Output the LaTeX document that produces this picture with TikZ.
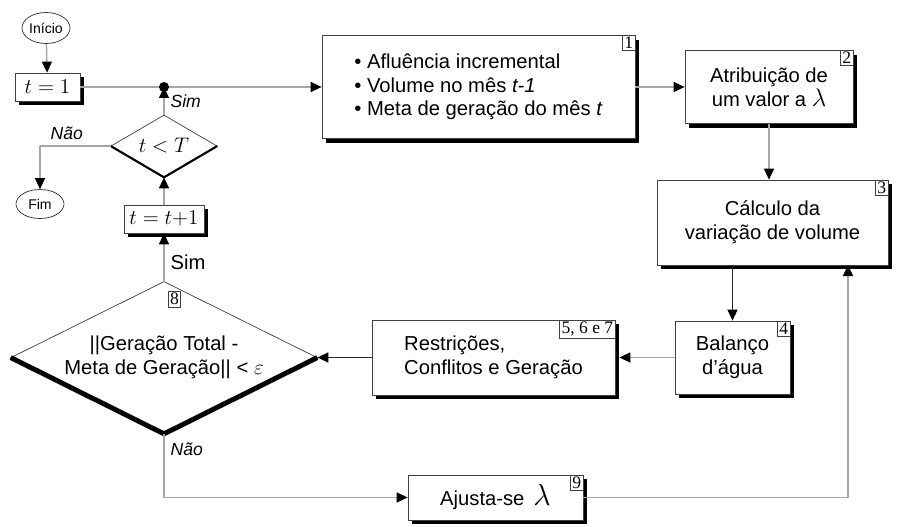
\documentclass[tikz,border=0pt]{standalone}
\usepackage{fontspec}
\setmainfont{Liberation Sans}
\newfontfamily\tagfont{Liberation Serif}
\usetikzlibrary{calc,positioning,arrows.meta,shapes.geometric,shadows}

\begin{document}
\begin{tikzpicture}[
    font=\fontsize{11.5}{13.5}\selectfont,
    box/.style={rectangle, draw=black!75, fill=white, align=center, inner sep=2pt, drop shadow={shadow xshift=2.4pt, shadow yshift=-2.4pt, opacity=1, fill=black}},
    term/.style={ellipse, draw=black!80, fill=white, inner sep=0pt, font=\footnotesize},
    decision/.style={diamond, draw=black!75, fill=white, inner sep=0pt, align=center},
    tag/.style={rectangle, draw=black!75, fill=white, inner sep=1pt, font=\tagfont\normalsize, anchor=north east},
    flow/.style={draw=gray!70, line width=0.8pt, -{Triangle[length=2.2mm,width=2mm,color=black]}},
    darkflow/.style={flow, draw=black!85},
    plain/.style={draw=gray!70, line width=0.8pt}
]
\useasboundingbox (0,0) rectangle (17.98,-10.54);

\node[term, minimum width=0.96cm, minimum height=0.62cm] (Inicio) at (0.92,-0.56) {Início};
\node[box, minimum width=1.3cm, minimum height=0.56cm] (TInit) at (0.95,-1.74) {$t = 1$};
\coordinate (Join) at (3.28,-1.74);
\node[decision, shape aspect=1.8, minimum width=2.12cm, minimum height=1.24cm] (TestT) at (3.28,-2.92) {\large$t < T$};
\node[term, minimum width=0.96cm, minimum height=0.58cm] (Fim) at (0.8,-4.08) {Fim};
\node[box, minimum width=1.6cm, minimum height=0.56cm] (TNext) at (3.28,-4.38) {$t = t{+}1$};

\node[box, minimum width=6.26cm, minimum height=2.06cm, align=left] (Dados) at (9.57,-1.74) {%
\textbullet\ Afluência incremental\\
\textbullet\ Volume no mês \textit{t-1}\\
\textbullet\ Meta de geração do mês \textit{t}};
\node[tag] at (Dados.north east) {1};

\node[box, minimum width=3.36cm, minimum height=1.46cm] (Lambda) at (15.38,-1.74) {Atribuição de\\um valor a {\Large$\lambda$}};
\node[tag] at (Lambda.north east) {2};

\node[box, minimum width=4.62cm, minimum height=1.7cm] (Volume) at (15.45,-4.45) {Cálculo da\\variação de volume};
\node[tag] at (Volume.north east) {3};

\node[box, minimum width=2.3cm, minimum height=1.46cm] (Balanco) at (14.65,-7.15) {Balanço\\d'água};
\node[tag] at (Balanco.north east) {4};

\node[box, minimum width=4.86cm, minimum height=1.5cm, align=left] (Restricoes) at (9.87,-7.15) {Restrições,\\Conflitos e Geração};
\node[tag] at (Restricoes.north east) {5, 6 e 7};

\node[box, minimum width=3.5cm, minimum height=0.9cm] (Ajuste) at (9.91,-9.95) {Ajusta-se \,{\LARGE$\lambda$}};
\node[tag] at (Ajuste.north east) {9};

\node[decision, shape aspect=2, minimum width=6.12cm, minimum height=3.04cm] (Erro) at (3.28,-7.15) {||Geração Total -\\Meta de Geração|| < $\varepsilon$};
\draw[line width=2.8pt, line join=miter] (Erro.west) -- (Erro.south) -- (Erro.east);
\draw[line width=1.2pt] (TestT.west) -- (TestT.south) -- (TestT.east);
\node[tag, anchor=north west] at ($(Erro.north)+(0.08,-0.2)$) {8};

\draw[flow] (Inicio) -- (TInit);
\draw[flow] (TInit) -- (Dados.west);
\fill (Join) circle (0.1);
\draw[flow] (TestT.north) -- node[right, font=\itshape] {Sim} (Join);
\draw[plain] (TestT.west) -- node[above, pos=0.62, font=\itshape] {Não} (0.8,-2.92);
\draw[flow] (0.8,-2.92) -- (Fim.north);
\draw[flow] (TNext) -- (TestT.south);
\draw[flow] (Erro.north) -- node[right, pos=0.4] {Sim} (TNext);

\draw[flow] (Dados.east) -- (Lambda.west);
\draw[flow] (Lambda.south) -- (Lambda.south |- Volume.north);
\draw[darkflow] (Balanco.north |- Volume.south) -- (Balanco.north);
\draw[flow] (Balanco.west) -- ($(Restricoes.east)+(0.08,0)$);
\draw[darkflow] (Restricoes.west) -- (Erro.east);

\coordinate (Volta) at (3.28,-9.95);
\draw[plain] (Erro.south) -- node[right, pos=0.25, font=\itshape] {Não} (Volta);
\draw[flow] (Volta) -- (Ajuste.west);
\draw[flow] (Ajuste.east) -| (16.96,-5.3);
\end{tikzpicture}
\end{document}
